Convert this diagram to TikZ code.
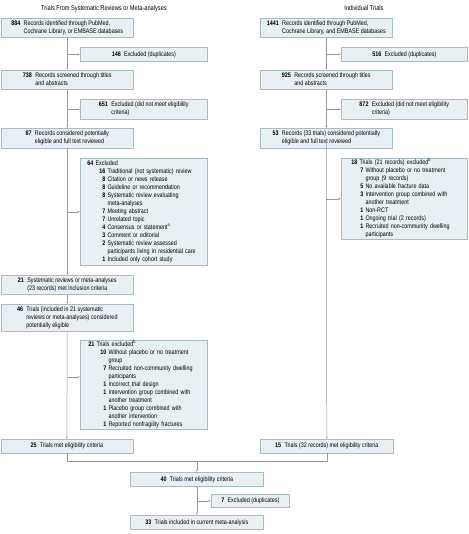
\documentclass[tikz,border=0pt]{standalone}
\usepackage{fontspec}
\setmainfont{Liberation Sans}[FakeStretch=0.82]
\usetikzlibrary{arrows.meta}
\definecolor{boxfill}{HTML}{E8F0F3}
\definecolor{boxdraw}{HTML}{A9BBC3}
\definecolor{linecol}{HTML}{9A9A9A}
\newcommand\nb[1]{\makebox[18pt][r]{\textbf{#1}}\ }
\newcommand\nbs[1]{\makebox[12pt][r]{\textbf{#1}}\ }
\newcommand\ct{\hspace*{18pt}\ }
\newcommand\cts{\hspace*{12pt}\ }
\newcommand\two[3]{\begin{tabular}{@{}r@{\enspace}l@{}}\textbf{#1} & #2\\ & #3\end{tabular}}
\newcommand\one[2]{\textbf{#1}\enspace #2}
\tikzset{
  bx/.style={draw=boxdraw, fill=boxfill, line width=0.6pt, inner sep=0pt,
    font=\fontsize{6.6}{8}\selectfont, anchor=north west, align=center},
  lst/.style={bx, align=left, inner xsep=7pt},
  ttl/.style={font=\fontsize{6.9}{8}\selectfont, inner sep=0pt},
  ln/.style={draw=linecol, line width=0.5pt},
  arr/.style={ln, -{Latex[length=2.2pt,width=2pt]}}
}
\begin{document}
\begin{tikzpicture}[x=1pt,y=-1pt]
\useasboundingbox (0,0) rectangle (468,534);
% titles
\node[ttl] (t1) at (104,8.5) {Trials From Systematic Reviews or Meta-analyses};
\node[ttl] (t2) at (364,8.5) {Individual Trials};
% left column
\node[bx, minimum width=132pt, minimum height=19pt] (L1) at (1,18)
  {\two{884}{Records identified through PubMed,}{Cochrane Library, or EMBASE databases}};
\node[bx, minimum width=127pt, minimum height=14pt] (E146) at (80,47)
  {\one{146}{Excluded (duplicates)}};
\node[bx, minimum width=132pt, minimum height=19pt] (L2) at (1,70)
  {\two{738}{Records screened through titles}{and abstracts}};
\node[bx, minimum width=127pt, minimum height=20pt] (E651) at (80,99)
  {\two{651}{Excluded (did not meet eligibility}{criteria)}};
\node[bx, minimum width=132pt, minimum height=20pt] (L3) at (1,128)
  {\two{87}{Records considered potentially}{eligible and full text reviewed}};
\node[lst, text width=113pt, minimum height=107pt] (E64) at (80,158)
  {\begin{tabular}{@{}l@{}}
  \textbf{64}\ Excluded\\
  \nb{16}Traditional (not systematic) review\\
  \nb{8}Citation or news release\\
  \nb{8}Guideline or recommendation\\
  \nb{8}Systematic review evaluating\\
  \ct meta-analyses\\
  \nb{7}Meeting abstract\\
  \nb{7}Unrelated topic\\
  \nb{4}Consensus or statement\textsuperscript{a}\\
  \nb{3}Comment or editorial\\
  \nb{2}Systematic review assessed\\
  \ct participants living in residential care\\
  \nb{1}Included only cohort study
  \end{tabular}};
\node[bx, minimum width=132pt, minimum height=19pt] (L4) at (1,275)
  {\two{21}{Systematic reviews or meta-analyses}{(23 records) met inclusion criteria}};
\node[bx, minimum width=132pt, minimum height=27pt] (L5) at (1,304)
  {\begin{tabular}{@{}r@{\enspace}l@{}}\textbf{46} & Trials (included in 21 systematic\\ & reviews or meta-analyses) considered\\ & potentially eligible\end{tabular}};
\node[lst, inner xsep=8pt, text width=111pt, minimum height=89pt] (E21) at (80,340)
  {\begin{tabular}{@{}l@{}}
  \textbf{21}\ Trials excluded\textsuperscript{b}\\
  \nb{10}Without placebo or no treatment\\
  \ct group\\
  \nb{7}Recruited non-community dwelling\\
  \ct participants\\
  \nb{1}Incorrect trial design\\
  \nb{1}Intervention group combined with\\
  \ct another treatment\\
  \nb{1}Placebo group combined with\\
  \ct another intervention\\
  \nb{1}Reported nonfragility fractures
  \end{tabular}};
\node[bx, minimum width=132pt, minimum height=13.5pt] (L6) at (0.5,439)
  {\one{25}{Trials met eligibility criteria}};
% right column
\node[bx, minimum width=132pt, minimum height=19pt] (R1) at (260,18)
  {\two{1441}{Records identified through PubMed,}{Cochrane Library, and EMBASE databases}};
\node[bx, minimum width=126pt, minimum height=14pt] (E516) at (341,47)
  {\one{516}{Excluded (duplicates)}};
\node[bx, minimum width=132pt, minimum height=19pt] (R2) at (260,70)
  {\two{925}{Records screened through titles}{and abstracts}};
\node[bx, minimum width=126pt, minimum height=20pt] (E872) at (341,99)
  {\two{872}{Excluded (did not meet eligibility}{criteria)}};
\node[bx, minimum width=132pt, minimum height=20pt] (R3) at (260,128)
  {\two{53}{Records (33 trials) considered potentially}{eligible and full text reviewed}};
\node[lst, inner xsep=10pt, text width=106pt, minimum height=81pt] (E18) at (341,158)
  {\begin{tabular}{@{}l@{}}
  \textbf{18}\ Trials (21 records) excluded\textsuperscript{b}\\
  \nbs{7}Without placebo or no treatment\\
  \cts group (9 records)\\
  \nbs{5}No available fracture data\\
  \nbs{3}Intervention group combined with\\
  \cts another treatment\\
  \nbs{1}Non-RCT\\
  \nbs{1}Ongoing trial (2 records)\\
  \nbs{1}Recruited non-community dwelling\\
  \cts participants
  \end{tabular}};
\node[bx, minimum width=133pt, minimum height=13.5pt] (R6) at (260,439)
  {\one{15}{Trials (32 records) met eligibility criteria}};
% center
\node[bx, minimum width=133pt, minimum height=14pt] (C40) at (130,472)
  {\one{40}{Trials met eligibility criteria}};
\node[bx, minimum width=78pt, minimum height=13pt] (E7) at (211,494)
  {\one{7}{Excluded (duplicates)}};
\node[bx, minimum width=133pt, minimum height=14pt] (C33) at (130,515)
  {\one{33}{Trials included in current meta-analysis}};
% connectors left
\draw[arr] (L1) -- (L2);
\draw[arr] (E146.west -| L1.south) -- (E146.west);
\draw[arr] (L2) -- (L3);
\draw[arr] (E651.west -| L2.south) -- (E651.west);
\draw[arr] (L3) -- (L4);
\draw[arr] (E64.west -| L3.south) -- (E64.west);
\draw[arr] (L4) -- (L5);
\draw[arr] (L5) -- (L6);
\coordinate (j21) at (67,377);
\draw[arr] (j21) -- (j21 -| E21.west);
% connectors right
\draw[arr] (R1) -- (R2);
\draw[arr] (E516.west -| R1.south) -- (E516.west);
\draw[arr] (R2) -- (R3);
\draw[arr] (E872.west -| R2.south) -- (E872.west);
\draw[arr] ([yshift=7pt]R3.south) -- (R6.north);
\draw[arr] (E18.west -| R3.south) -- (E18.west);
% merge
\coordinate (m) at (C40.north |- 0,461);
\draw[ln] (L6.south) |- (m);
\draw[ln] (R6.south) |- (m);
\draw[arr] (m) -- (C40.north);
\draw[arr] (C40) -- (C33);
\draw[arr] (E7.west -| C40.south) -- (E7.west);
\end{tikzpicture}
\end{document}
